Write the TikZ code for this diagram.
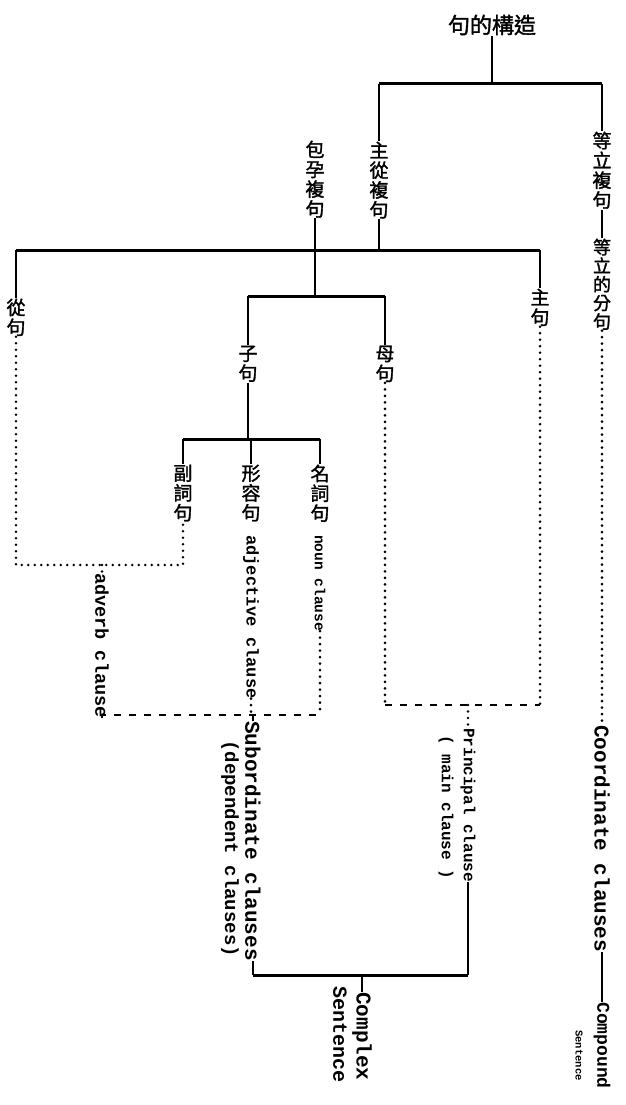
\documentclass[tikz,border=0pt]{standalone}
\usepackage{fontspec}
\setmonofont{Liberation Mono}
\newfontfamily\cjk[FakeBold=1.6]{Noto Sans CJK TC}
\usetikzlibrary{positioning}

\begin{document}
\begin{tikzpicture}[x=1pt, y=-1pt,
  zh/.style={font=\cjk\fontsize{19}{19.8}\selectfont, align=center, inner sep=0.5pt, anchor=north},
  en/.style={font=\ttfamily\bfseries\fontsize{#1}{#1}\selectfont, rotate=-90, inner sep=0pt, anchor=west},
  trunk/.style={line width=3pt},
  stem/.style={line width=2.2pt},
  leader/.style={line width=2.9pt, line cap=round, dash pattern=on 0pt off 6.5pt},
  joinline/.style={line width=2.6pt, dash pattern=on 7pt off 8pt}]
  \useasboundingbox (0,0) rectangle (625,1105);

  % the tree of Chinese terms
  \node[font=\cjk\fontsize{22}{22}\selectfont, inner sep=1pt] (ttl) at (492,25) {句的構造};
  \coordinate (h1l) at (379,84);
  \coordinate (h1r) at (602,84);
  \node[zh] (zc) at (379,141) {主\\從\\複\\句};
  \node[zh] (by) at (315,140) {包\\孕\\複\\句};
  \node[zh] (dl) at (602,131) {等\\立\\複\\句};
  \node[zh, font=\cjk\fontsize{18}{18.6}\selectfont] (dlf) at (602,238) {等\\立\\的\\分\\句};
  \coordinate (h2l) at (16,250);
  \coordinate (h2r) at (540,250);
  \node[zh] (cj) at (16,298) {從\\句};
  \node[zh] (zj) at (540,288) {主\\句};
  \coordinate (h3l) at (248,296);
  \coordinate (h3r) at (385,296);
  \node[zh] (mj) at (385,345) {母\\句};
  \node[zh] (zij) at (248,345) {子\\句};
  \coordinate (h4l) at (183,439);
  \coordinate (h4r) at (320,439);
  \node[zh] (fc) at (183,464) {副\\詞\\句};
  \node[zh] (xr) at (251,464) {形\\容\\句};
  \node[zh] (mc) at (320,464) {名\\詞\\句};

  % the English names
  \node[en=17] (adj) at (251,535) {adjective clause};
  \node[en=14.5] (noun) at (320,535) {noun clause};
  \node[en=18.5] (adv) at (102,573) {adverb clause};
  \node[en=21] (sub) at (253,721) {Subordinate clauses};
  \node[en=19] (dep) at (230,740) {(dependent clauses)};
  \node[en=16] (pc) at (468,728) {Principal clause};
  \node[en=16] (mcl) at (446,735) {( main clause )};
  \node[en=21] (cc) at (602,725) {Coordinate clauses};
  \node[en=18] (cp) at (602,1002) {Compound};
  \node[en=10.5] (sen1) at (579,1030) {Sentence};
  \node[en=21] (cx) at (362,992) {Complex};
  \node[en=20] (sen2) at (340,986) {Sentence};

  % solid lines
  \draw[stem] (ttl.south) -- (ttl.south |- h1l);
  \draw[trunk] (h1l) -- (h1r);
  \draw[stem] (h1l) -- (zc.north);
  \draw[stem] (h1r) -- (dl.north);
  \draw[stem] (dl.south) -- (dlf.north);
  \draw[stem] (zc.south) -- (zc.south |- h2l);
  \draw[trunk] (h2l) -- (h2r);
  \draw[stem] (h2l) -- (cj.north);
  \draw[stem] (h2r) -- (zj.north);
  \draw[stem] (by.south) -- (by.south |- h3l);
  \draw[trunk] (h3l) -- (h3r);
  \draw[stem] (h3r) -- (mj.north);
  \draw[stem] (h3l) -- (zij.north);
  \draw[stem] (zij.south) -- (zij.south |- h4l);
  \draw[trunk] (h4l) -- (h4r);
  \draw[stem] (h4l) -- (fc.north);
  \draw[stem] (xr.north |- h4l) -- (xr.north);
  \draw[stem] (h4r) -- (mc.north);

  % where the clauses meet
  \coordinate (advj) at (102,565);
  \coordinate (subj) at (253,715);
  \coordinate (prij) at (468,705);
  \coordinate (bot) at (362,975);
  \draw[leader] (cj.south) -- (cj.south |- advj) -- (fc.south |- advj) -- (fc.south);
  \draw[leader] (advj) -- (adv.west);
  \draw[joinline] (adv.east) -- (adv.east |- subj) -- (mc.south |- subj);
  \draw[leader] (noun.east) -- (noun.east |- subj);
  \draw[leader] (adj.east) -- (adj.east |- subj);
  \draw[stem] (subj) -- (sub.west);
  \draw[leader] (zj.south) -- (zj.south |- prij);
  \draw[leader] (mj.south) -- (mj.south |- prij);
  \draw[joinline] (mj.south |- prij) -- (zj.south |- prij);
  \draw[leader] (prij) -- (pc.west);
  \draw[stem] (sub.east) -- (sub.east |- bot);
  \draw[stem] (pc.east) -- (pc.east |- bot);
  \draw[trunk] (sub.east |- bot) -- (pc.east |- bot);
  \draw[stem] (bot) -- (cx.west);
  \draw[leader] (dlf.south) -- (cc.west);
  \draw[stem] (cc.east) -- (cp.west);
\end{tikzpicture}
\end{document}
